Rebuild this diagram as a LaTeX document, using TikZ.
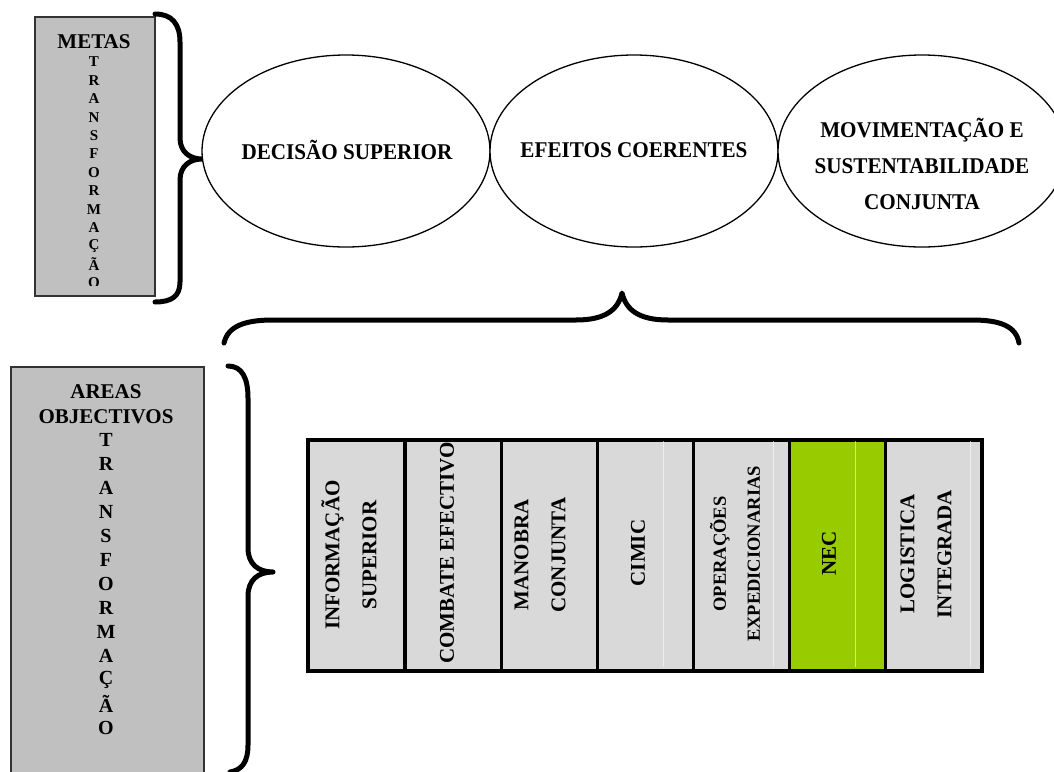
\documentclass[tikz,border=0pt]{standalone}
\usepackage{fontspec}
\setmainfont{Liberation Serif}
\usetikzlibrary{shapes.geometric}
\definecolor{boxgrey}{HTML}{C0C0C0}
\definecolor{colgrey}{HTML}{D9D9D9}
\definecolor{necgreen}{HTML}{99CC00}
\begin{document}
\begin{tikzpicture}[x=1pt,y=-1pt,
  bracestroke/.style={line width=5pt, line cap=round, line join=round},
  sidebox/.style={draw=black!80, line width=1.5pt, fill=boxgrey, inner sep=0, anchor=north west},
  colbox/.style={draw=black, line width=2.5pt, fill=colgrey, minimum width=96pt, minimum height=230pt, inner sep=0, anchor=north west},
  oval/.style={ellipse, draw, line width=1.3pt, fill=white, minimum width=288pt, minimum height=192pt, inner sep=0},
  bigtext/.style={font=\bfseries\fontsize{21}{36}\selectfont, align=center, inner sep=0},
  ovaltext/.style={font=\bfseries\fontsize{22.5}{36}\selectfont, align=center, inner sep=0, xscale=0.94},
  mletter/.style={font=\bfseries\fontsize{15}{18}\selectfont, inner sep=0},
  aletter/.style={font=\bfseries\fontsize{20}{24}\selectfont, inner sep=0},
  coltext/.style={rotate=90, align=center, inner sep=0, font=\bfseries\fontsize{21}{37}\selectfont},
  faint/.style={draw=white, opacity=0.55, line width=0.8pt}
]
\useasboundingbox (0,0) rectangle (1054,771);
\clip (0,0) rectangle (1054,771);

% METAS box
\node[sidebox, minimum width=120pt, minimum height=279pt] (metabox) at (34,16) {};
\node[bigtext] (metas) at (94,42) {METAS};
\begin{scope}
  \clip (34,16) rectangle (154,285);
  \foreach \l [count=\i from 0] in {T,R,A,N,S,F,O,R,M,A,Ç,Ã,O}
    \node[mletter] (mt\i) at (94,62+18.4*\i) {\l};
\end{scope}

% top-left brace
\draw[bracestroke] (155,14) .. controls (172,14) and (180,24) .. (180,42) -- (180,138)
  .. controls (180,152) and (190,159) .. (202,159)
  .. controls (190,159) and (180,166) .. (180,180) -- (180,282)
  .. controls (180,296) and (172,302) .. (155,302);

% ellipses
\node[oval] (e1) at (346,151) {};
\node[oval] (e2) at (634,151) {};
\node[oval] (e3) at (922,151) {};
\node[ovaltext] (t1) at (347,150) {DECISÃO SUPERIOR};
\node[ovaltext] (t2) at (634,150) {EFEITOS COERENTES};
\node[ovaltext] (t3) at (922,164) {MOVIMENTAÇÃO E\\SUSTENTABILIDADE\\CONJUNTA};

% horizontal brace
\draw[bracestroke] (224,343) .. controls (228,326) and (245,320) .. (273,320) -- (576,320)
  .. controls (605,320) and (618,310) .. (622,293)
  .. controls (626,310) and (639,320) .. (668,320) -- (972,320)
  .. controls (1000,320) and (1016,326) .. (1019,343);

% AREAS box
\node[sidebox, minimum width=193pt, minimum height=420pt] (areabox) at (10,366) {};
\node[bigtext] (areas) at (106,392) {AREAS};
\node[bigtext] (objectivos) at (106,417) {OBJECTIVOS};
\foreach \l [count=\i from 0] in {T,R,A,N,S,F,O,R,M,A,Ç,Ã,O}
  \node[aletter] (at\i) at (106,440+24*\i) {\l};

% lower-left brace
\draw[bracestroke] (228,366) .. controls (242,366) and (248,378) .. (248,398) -- (248,548)
  .. controls (248,564) and (258,572) .. (273,572)
  .. controls (258,572) and (248,580) .. (248,596) -- (248,745)
  .. controls (248,762) and (242,770) .. (230,772);

% columns
\node[colbox] (c1) at (307,439) {};
\node[colbox] (c2) at (404,439) {};
\node[colbox] (c3) at (500,439) {};
\node[colbox] (c4) at (596,439) {};
\node[colbox] (c5) at (692,439) {};
\node[colbox, fill=necgreen] (c6) at (788,439) {};
\node[colbox] (c7) at (884,439) {};
\draw[faint] (663,441) -- (663,667);
\draw[faint] (773,441) -- (773,667);
\draw[faint] (855,441) -- (855,667);
\draw[faint] (970,441) -- (970,667);
% redraw outer borders on top
\draw[line width=2.5pt] (c1.north west) rectangle (c7.south east);

\node[coltext] (l1) at (349,555) {INFORMAÇÃO\\SUPERIOR};
\node[coltext] (l2) at (447,553) {COMBATE EFECTIVO};
\node[coltext] (l3) at (540,555) {MANOBRA\\CONJUNTA};
\node[coltext] (l4) at (638,553) {CIMIC};
\node[coltext, font=\bfseries\fontsize{18.5}{34}\selectfont] (l5) at (735,554) {OPERAÇÕES\\EXPEDICIONARIAS};
\node[coltext] (l6) at (829,553) {NEC};
\node[coltext] (l7) at (926,554) {LOGISTICA\\INTEGRADA};
\end{tikzpicture}
\end{document}
